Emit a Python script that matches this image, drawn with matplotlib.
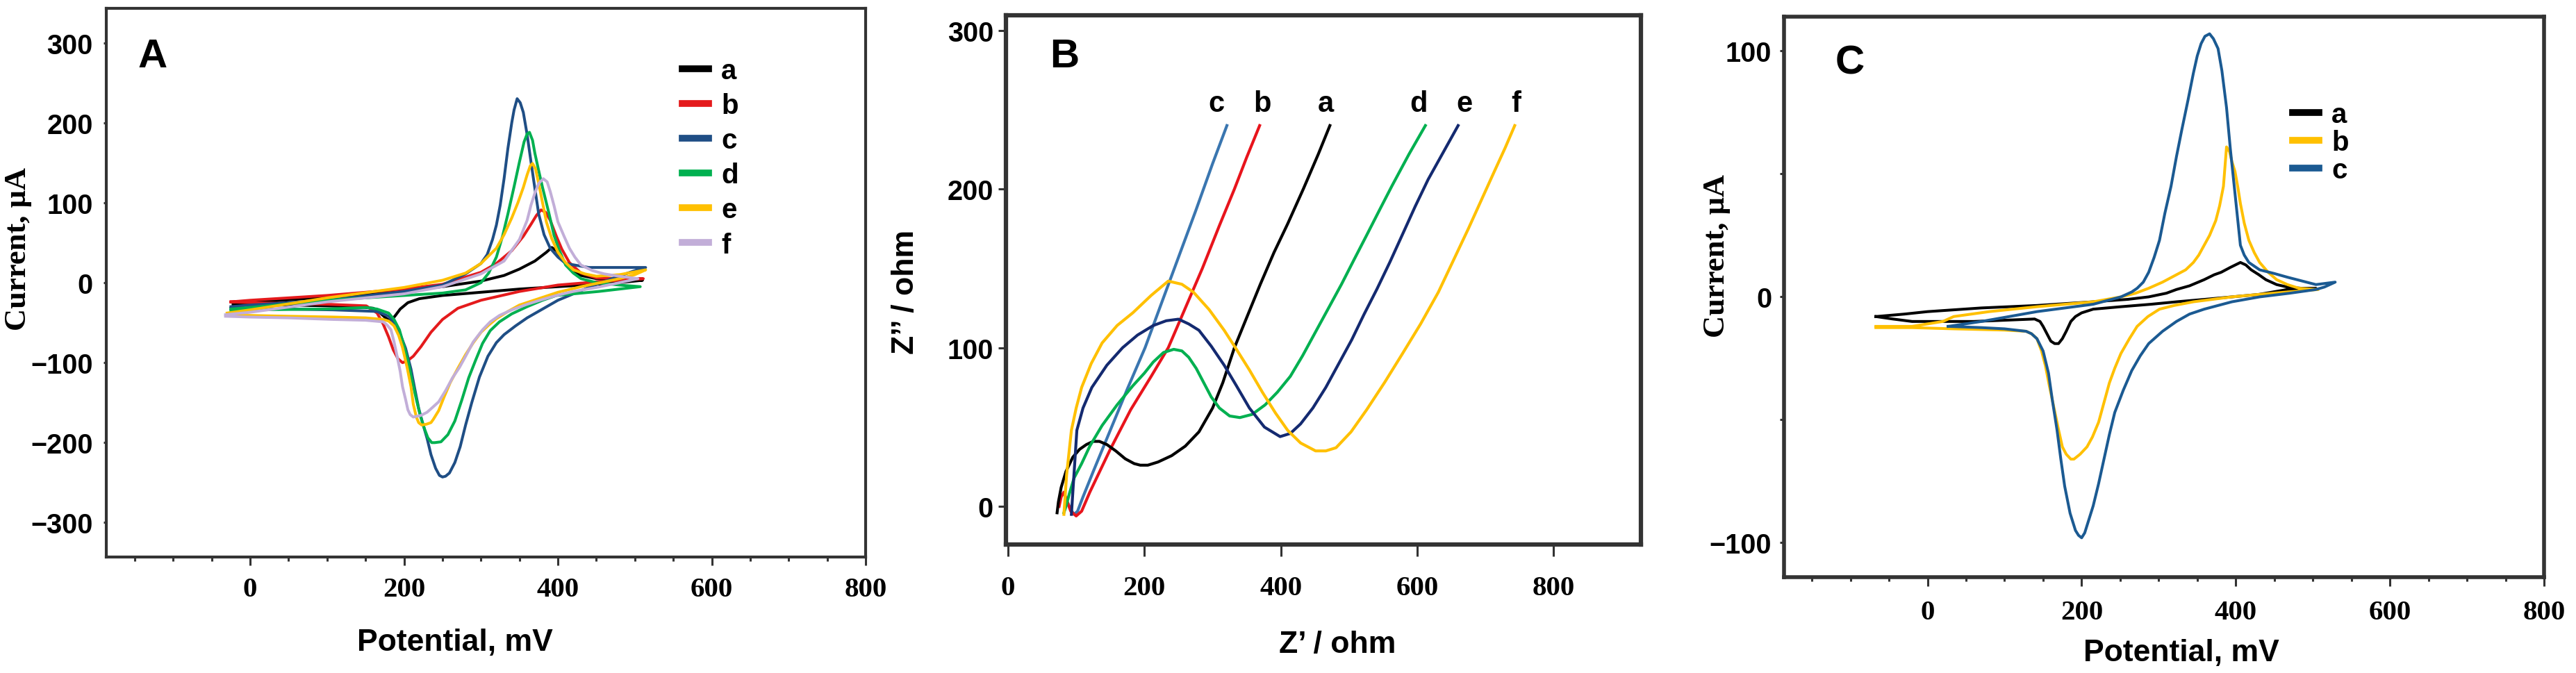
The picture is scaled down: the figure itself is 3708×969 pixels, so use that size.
import numpy as np
import matplotlib
matplotlib.use("Agg")
import matplotlib.pyplot as plt
from matplotlib.ticker import MultipleLocator
from matplotlib.font_manager import FontProperties

# ---------- panel A : CV, six electrodes (potential mV, current uA) ----------
cv_a = [(-22, -27), (0, -25), (100, -18), (200, -10), (250, -5), (300, 2), (330, 9), (350, 17),
        (370, 27), (385, 38), (392, 44), (398, 40), (405, 30), (415, 18), (430, 9), (450, 5),
        (480, 3), (510, 3), (480, 0), (450, -2), (400, -5), (350, -8), (300, -12), (250, -16),
        (220, -20), (205, -25), (195, -33), (188, -42), (182, -48), (176, -44), (168, -37),
        (160, -32), (140, -30), (100, -29), (50, -28), (0, -28), (-22, -27)]
cv_b = [(-25, -24), (0, -22), (100, -16), (200, -8), (250, -2), (300, 13), (320, 24), (340, 40),
        (355, 58), (365, 73), (372, 84), (378, 91), (384, 88), (390, 78), (398, 58), (405, 42),
        (415, 25), (430, 12), (450, 6), (480, 5), (511, 5), (480, 3), (450, 1), (400, -3),
        (350, -11), (300, -22), (270, -32), (250, -46), (235, -62), (222, -80), (212, -92),
        (204, -98), (198, -100), (192, -95), (186, -84), (180, -68), (173, -52), (165, -38),
        (151, -29), (100, -27), (0, -25), (-25, -24)]
cv_c = [(-25, -30), (0, -28), (100, -22), (200, -11), (250, -3), (280, 11), (300, 24), (308, 35),
        (315, 54), (320, 72), (325, 97), (330, 130), (335, 168), (340, 200), (343, 216), (347, 230),
        (351, 225), (355, 213), (360, 185), (365, 151), (370, 118), (375, 86), (382, 60), (390, 43),
        (400, 32), (410, 24), (440, 19), (480, 19), (514, 19), (500, 15), (470, 5), (440, -6),
        (420, -14), (400, -22), (380, -33), (360, -44), (345, -54), (330, -65), (320, -75),
        (309, -92), (298, -118), (288, -150), (280, -178), (273, -205), (266, -225), (259, -238),
        (254, -242), (250, -243), (246, -241), (241, -232), (235, -215), (230, -195), (224, -175),
        (219, -157), (214, -133), (209, -108), (202, -82), (194, -62), (187, -50), (180, -42),
        (165, -36), (108, -34), (50, -33), (0, -33), (-25, -32)]
cv_d = [(-25, -33), (0, -31), (100, -22), (200, -16), (250, -13), (280, -9), (300, 0), (310, 12),
        (320, 32), (328, 58), (335, 86), (343, 120), (350, 151), (356, 176), (360, 186), (363, 188),
        (367, 178), (370, 162), (375, 140), (380, 119), (388, 88), (395, 59), (402, 40), (410, 22),
        (420, 12), (430, 5), (450, 0), (480, -3), (507, -5), (480, -8), (453, -11), (420, -14),
        (398, -16), (380, -22), (360, -30), (340, -39), (324, -49), (312, -60), (302, -76),
        (293, -97), (284, -119), (275, -147), (266, -173), (257, -190), (248, -199), (240, -200),
        (236, -200), (231, -194), (227, -184), (221, -166), (216, -146), (210, -120), (205, -97),
        (199, -76), (194, -59), (187, -46), (180, -38), (165, -33), (151, -31), (100, -33),
        (0, -34), (-25, -35)]
cv_e = [(-30, -38), (0, -34), (100, -19), (200, -6), (250, 3), (280, 12), (300, 24), (320, 43),
        (330, 60), (340, 81), (348, 100), (355, 119), (360, 135), (364, 146), (367, 149),
        (371, 142), (375, 124), (380, 100), (385, 76), (392, 55), (400, 38), (410, 25), (420, 16),
        (435, 11), (450, 8), (480, 10), (514, 16), (500, 10), (480, 5), (455, 0), (430, -5),
        (400, -12), (375, -20), (350, -28), (335, -36), (320, -45), (310, -53), (300, -62),
        (290, -75), (280, -90), (270, -107), (260, -125), (252, -143), (245, -160), (238, -171),
        (235, -175), (229, -177), (223, -178), (219, -175), (216, -168), (212, -152), (209, -130),
        (204, -106), (198, -81), (193, -66), (187, -54), (180, -48), (173, -46), (150, -44),
        (108, -43), (50, -42), (0, -41), (-30, -41)]
cv_f = [(-32, -40), (0, -37), (100, -24), (200, -14), (250, -5), (300, 11), (330, 27), (350, 54),
        (360, 78), (365, 97), (370, 112), (375, 124), (381, 130), (386, 126), (390, 114),
        (395, 96), (400, 76), (408, 58), (415, 43), (422, 32), (430, 22), (445, 15), (460, 11),
        (480, 8), (504, 5), (480, 0), (450, -6), (420, -11), (398, -16), (380, -21), (360, -27),
        (340, -34), (324, -41), (312, -49), (302, -59), (290, -74), (280, -92), (272, -106),
        (263, -119), (254, -135), (245, -149), (237, -156), (230, -162), (222, -166), (212, -168),
        (208, -165), (205, -159), (202, -146), (198, -130), (195, -111), (191, -92), (187, -74),
        (183, -59), (178, -53), (173, -49), (150, -47), (108, -46), (50, -44), (0, -43), (-32, -42)]
cv_labels = ["a", "b", "c", "d", "e", "f"]
cv_colors = ["#000000", "#e41a1c", "#1f4e85", "#00b050", "#ffc000", "#c2aed8"]

# ---------- panel B : Nyquist plots (Z' ohm, Z'' ohm) ----------
nyq_c = [(88, 2), (92, -2), (97, -5), (102, -3), (110, 6), (125, 22), (150, 48), (175, 74),
         (201, 100), (225, 128), (250, 157), (275, 186), (300, 216), (321, 240)]
nyq_b = [(75, 0), (78, 6), (82, 9), (86, 4), (92, -3), (100, -6), (108, -3), (120, 9), (150, 36),
         (180, 61), (210, 82), (235, 100), (260, 125), (285, 150), (310, 177), (332, 200),
         (350, 220), (369, 240)]
nyq_a = [(72, -4), (74, 3), (78, 12), (85, 22), (95, 31), (105, 36), (115, 39), (125, 41),
         (134, 41), (145, 39), (158, 35), (172, 30), (185, 27), (194, 26), (205, 26), (220, 28),
         (240, 32), (260, 38), (280, 47), (300, 62), (315, 78), (332, 100), (350, 119), (370, 140),
         (390, 160), (410, 178), (433, 200), (455, 222), (472, 240)]
nyq_d = [(82, -4), (85, 0), (90, 8), (97, 18), (108, 27), (120, 38), (138, 51), (160, 64),
         (183, 76), (200, 84), (213, 91), (228, 97), (243, 99), (255, 98), (265, 94), (276, 87),
         (287, 78), (298, 69), (310, 62), (325, 57), (340, 56), (358, 58), (377, 64), (395, 72),
         (414, 82), (432, 95), (451, 110), (470, 125), (489, 140), (508, 156), (526, 171),
         (545, 187), (563, 202), (588, 222), (612, 240)]
nyq_e = [(93, -5), (96, 15), (101, 48), (110, 62), (123, 75), (145, 89), (168, 100), (190, 108),
         (213, 114), (232, 117), (250, 118), (265, 115), (280, 111), (298, 101), (317, 89),
         (335, 76), (354, 62), (376, 50), (399, 44), (414, 46), (429, 52), (447, 62), (466, 75),
         (485, 90), (504, 105), (522, 121), (541, 137), (560, 154), (578, 171), (597, 189),
         (616, 206), (638, 223), (660, 240)]
nyq_f = [(82, -5), (86, 20), (93, 48), (100, 62), (108, 75), (122, 90), (138, 103), (160, 114),
         (183, 122), (210, 133), (235, 142), (255, 140), (272, 135), (295, 124), (317, 111),
         (335, 99), (354, 86), (373, 72), (392, 59), (410, 48), (429, 40), (451, 35), (466, 35),
         (481, 37), (503, 47), (526, 61), (552, 78), (578, 96), (605, 115), (631, 135), (653, 155),
         (675, 175), (694, 193), (713, 211), (729, 226), (743, 240)]
nyq_colors = {"a": "#000000", "b": "#e8141c", "c": "#3a76b0", "d": "#00b050", "e": "#142a70", "f": "#ffc000"}
nyq_label_x = {"c": 306, "b": 373, "a": 466, "d": 602, "e": 669, "f": 745}
nyq_label_y = 254

# ---------- panel C : CV, three electrodes ----------
cv2_a = [(-67, -8), (-30, -7), (0, -6), (70, -4.5), (142, -3.5), (215, -2), (260, -1), (287, 0),
         (310, 1.5), (323, 3), (340, 4.5), (359, 7), (372, 9), (381, 10), (393, 12), (406, 14),
         (413, 13), (420, 11), (430, 9), (439, 7), (453, 5), (467, 4), (485, 3.5), (504, 3.5),
         (485, 3), (467, 3), (430, 1), (395, 0), (360, -1), (323, -2), (290, -3), (251, -4),
         (215, -5), (200, -6.5), (192, -8), (186, -10), (180, -14), (175, -17), (170, -19),
         (165, -19), (160, -18), (155, -15), (150, -12), (146, -10), (139, -9), (100, -9.5),
         (60, -10), (20, -10), (-20, -10), (-45, -9), (-67, -8)]
cv2_b = [(-67, -12), (-20, -12), (20, -10), (34, -8), (80, -6), (142, -4), (215, -2), (251, 0),
         (270, 1.5), (287, 3.5), (305, 6), (323, 9), (335, 11), (345, 14), (352, 17), (359, 21),
         (366, 25), (374, 31), (379, 37), (384, 45), (386, 53), (388, 61), (392, 59), (395, 55),
         (399, 51), (403, 44), (406, 38), (411, 30), (417, 23), (424, 18), (431, 14), (442, 10),
         (453, 7), (467, 5), (482, 3.5), (507, 3), (487, 2.5), (467, 2), (430, 1), (395, 0),
         (370, -1), (345, -2), (320, -3.5), (301, -5), (286, -8), (272, -12), (262, -17),
         (251, -23), (243, -29), (236, -35), (229, -43), (222, -51), (214, -57), (207, -61),
         (198, -64), (190, -66), (186, -66), (180, -64), (175, -61), (170, -54), (164, -45),
         (158, -36), (153, -28), (148, -22), (142, -17), (135, -15), (128, -14), (100, -13.5),
         (34, -13), (-20, -12.5), (-67, -12.5)]
cv2_c = [(27, -12), (70, -10), (142, -6), (215, -3), (251, 0), (265, 2), (272, 3.5), (280, 6),
         (287, 10), (294, 16), (301, 23), (308, 34), (316, 45), (323, 57), (330, 68), (338, 80),
         (345, 91), (350, 98), (355, 103), (360, 106), (366, 107), (371, 105), (377, 101),
         (382, 92), (388, 77), (393, 60), (399, 42), (403, 30), (406, 21), (411, 17), (417, 14),
         (431, 11), (450, 9.5), (467, 8), (504, 5), (529, 6), (515, 4), (504, 3), (470, 1.5),
         (431, 0), (395, -2), (359, -5), (340, -7), (323, -10), (305, -14), (287, -19),
         (276, -24), (265, -30), (254, -38), (243, -47), (236, -56), (229, -66), (222, -76),
         (215, -85), (208, -92), (204, -96), (200, -98), (196, -97), (192, -95), (185, -88),
         (178, -77), (173, -66), (168, -54), (162, -42), (157, -31), (150, -22), (142, -17),
         (135, -15), (128, -14), (100, -13), (70, -12.5), (27, -12)]
cv2_labels = ["a", "b", "c"]
cv2_colors = ["#000000", "#ffc000", "#1b5a92"]

SANS = "Liberation Sans"
SERIF = "Liberation Serif"
xtick_font = FontProperties(family=SERIF, weight="bold", size=29.5)
ytick_font = FontProperties(family=SANS, weight="bold", size=28.5)

fig = plt.figure(figsize=(37.08, 9.70), dpi=100)
axA = fig.add_axes([0.04126, 0.1722, 0.2948, 0.8144])
axB = fig.add_axes([0.3905, 0.1907, 0.2465, 0.7856])
axC = fig.add_axes([0.6926, 0.1423, 0.2950, 0.8320])


def style(ax, spine_w, xticks, yticks, xpad, ypad, xlen, ylen, xminor=None, yminor=None):
    for s in ax.spines.values():
        s.set_linewidth(spine_w)
        s.set_color("#333333")
    ax.set_xticks(xticks)
    ax.set_yticks(yticks)
    if xminor:
        ax.xaxis.set_minor_locator(MultipleLocator(xminor))
    if yminor:
        ax.yaxis.set_minor_locator(MultipleLocator(yminor))
    ax.tick_params(axis="x", which="major", direction="out", length=xlen, width=2.2, pad=xpad,
                   color="#333333")
    ax.tick_params(axis="y", which="major", direction="out", length=ylen, width=2.2, pad=ypad,
                   color="#333333")
    ax.tick_params(which="minor", direction="out", length=xlen * 0.5, width=2.2, color="#333333")


def fix_tick_fonts(ax):
    for t in ax.get_xticklabels():
        t.set_fontproperties(xtick_font)
    for t in ax.get_yticklabels():
        t.set_fontproperties(ytick_font)


# panel A
for pts, lab, col in zip([cv_a, cv_b, cv_c, cv_d, cv_e, cv_f], cv_labels, cv_colors):
    arr = np.array(pts, dtype=float)
    axA.plot(arr[:, 0], arr[:, 1], color=col, lw=2.9, label=lab)
axA.set_xlim(-187, 800)
axA.set_ylim(-343, 343)
style(axA, 3.0, [0, 200, 400, 600, 800], [-300, -200, -100, 0, 100, 200, 300],
      xpad=12, ypad=11, xlen=8.5, ylen=3, xminor=50)
legA = axA.legend(loc="upper left", bbox_to_anchor=(0.758, 0.91), frameon=False,
                  prop=dict(family=SANS, weight="bold", size=29), handlelength=0.95,
                  handletextpad=0.45, labelspacing=0.3, borderpad=0, borderaxespad=0)
for h in legA.get_lines():
    h.set_linewidth(7)
axA.text(0.061, 0.913, "A", transform=axA.transAxes, ha="center", va="center",
         fontfamily=SANS, fontweight="bold", fontsize=42)

# panel B
for lab, pts in zip(["c", "b", "a", "d", "e", "f"], [nyq_c, nyq_b, nyq_a, nyq_d, nyq_e, nyq_f]):
    arr = np.array(pts, dtype=float)
    axB.plot(arr[:, 0], arr[:, 1], color=nyq_colors[lab], lw=3.0)
    axB.text(nyq_label_x[lab], nyq_label_y, lab, ha="center", va="center",
             fontfamily=SANS, fontweight="bold", fontsize=30)
axB.set_xlim(-3, 928)
axB.set_ylim(-24, 309.5)
style(axB, 4.5, [0, 200, 400, 600, 800], [0, 100, 200, 300],
      xpad=20, ypad=5, xlen=12, ylen=8)
axB.text(0.092, 0.923, "B", transform=axB.transAxes, ha="center", va="center",
         fontfamily=SANS, fontweight="bold", fontsize=42)

# panel C
for pts, lab, col in zip([cv2_a, cv2_b, cv2_c], cv2_labels, cv2_colors):
    arr = np.array(pts, dtype=float)
    axC.plot(arr[:, 0], arr[:, 1], color=col, lw=2.9, label=lab)
axC.set_xlim(-186, 800)
axC.set_ylim(-114, 114)
style(axC, 4.0, [0, 200, 400, 600, 800], [-100, 0, 100],
      xpad=14, ypad=8.5, xlen=9, ylen=4.5, xminor=50, yminor=50)
legC = axC.legend(loc="upper left", bbox_to_anchor=(0.669, 0.849), frameon=False,
                  prop=dict(family=SANS, weight="bold", size=29), handlelength=0.95,
                  handletextpad=0.45, labelspacing=0.05, borderpad=0, borderaxespad=0)
for h in legC.get_lines():
    h.set_linewidth(7)
axC.text(0.086, 0.918, "C", transform=axC.transAxes, ha="center", va="center",
         fontfamily=SANS, fontweight="bold", fontsize=42)

# axis titles placed as in the source figure
W, H = 3708.0, 970.0
lab_kw = dict(fontweight="bold", fontsize=32, ha="center", va="center")
fig.text(26 / W, 1 - 358 / H, "Current, μA", rotation=90, fontfamily=SERIF, **lab_kw)
fig.text(655 / W, 1 - 926 / H, "Potential, mV", fontfamily=SANS, **lab_kw)
fig.text(1303 / W, 1 - 420 / H, "Z’’ / ohm", rotation=90, fontfamily=SANS, **lab_kw)
fig.text(1925 / W, 1 - 929 / H, "Z’ / ohm", fontfamily=SANS, **lab_kw)
fig.text(2471 / W, 1 - 369 / H, "Current, μA", rotation=90, fontfamily=SERIF, **lab_kw)
fig.text(3140 / W, 1 - 941 / H, "Potential, mV", fontfamily=SANS, **lab_kw)

# tick labels get their fonts once the ticks exist
fig.canvas.draw()
for ax in (axA, axB, axC):
    fix_tick_fonts(ax)

fig.savefig("out.png", dpi=100)
